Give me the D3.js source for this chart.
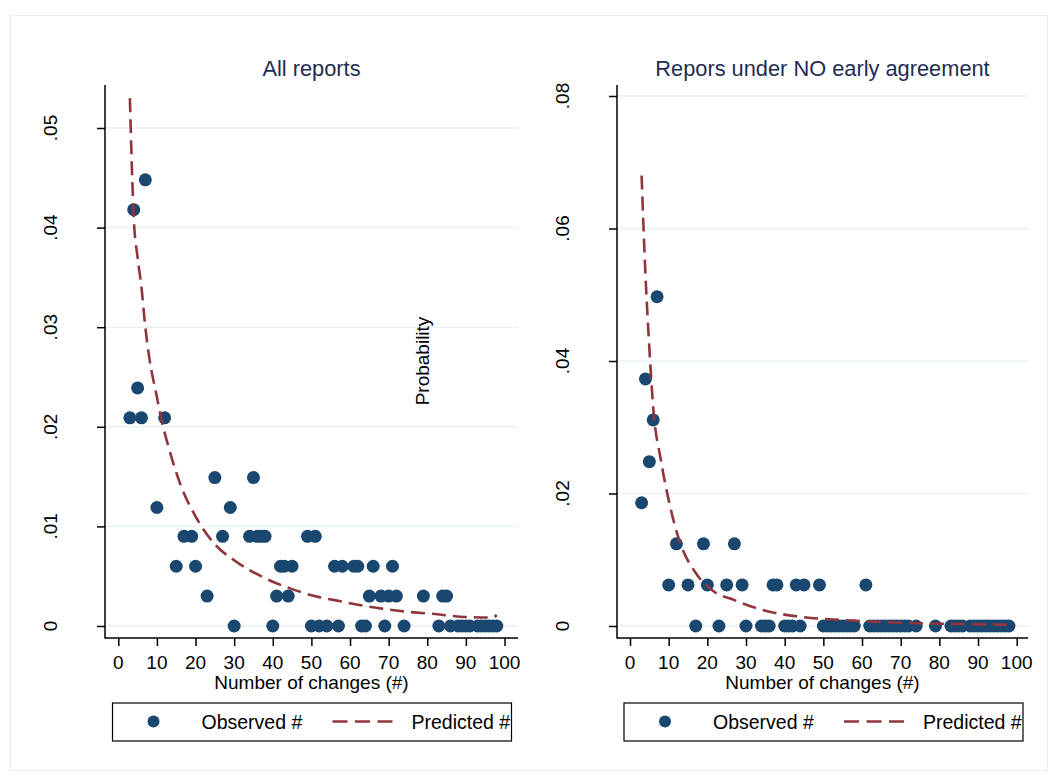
<!DOCTYPE html>
<html>
<head>
<meta charset="utf-8">
<script src="https://cdn.jsdelivr.net/npm/d3@7"></script>
<style>
  body { margin: 0; background: #fff; }
  text { font-family: "Liberation Sans", Arial, sans-serif; }
</style>
</head>
<body>
<div id="chart"></div>
<script>
// ---- data ----
var xTicks = [0, 10, 20, 30, 40, 50, 60, 70, 80, 90, 100];

// left panel: all reports
var allTicks = [0, 0.01, 0.02, 0.03, 0.04, 0.05];
var allTickLabels = ["0", ".01", ".02", ".03", ".04", ".05"];
var allObsX = [7, 4, 5, 3, 6, 12, 25, 35, 10, 29,
               17, 19, 27, 34, 36, 37, 38, 49, 51,
               15, 20, 42, 43, 45, 56, 58, 61, 62, 66, 71,
               23, 41, 44, 65, 68, 70, 72, 79, 84, 85,
               30, 40, 50, 52, 54, 57, 63, 64, 69, 74, 83, 86, 88, 89, 90, 91, 93, 94, 95, 96, 97, 98];
var allObsY = [0.0448, 0.0418, 0.0239, 0.0209, 0.0209, 0.0209, 0.0149, 0.0149, 0.0119, 0.0119,
               0.009, 0.009, 0.009, 0.009, 0.009, 0.009, 0.009, 0.009, 0.009,
               0.006, 0.006, 0.006, 0.006, 0.006, 0.006, 0.006, 0.006, 0.006, 0.006, 0.006,
               0.003, 0.003, 0.003, 0.003, 0.003, 0.003, 0.003, 0.003, 0.003, 0.003,
               0, 0, 0, 0, 0, 0, 0, 0, 0, 0, 0, 0, 0, 0, 0, 0, 0, 0, 0, 0, 0, 0];
var allPredX = [3, 4, 5, 6, 7, 8, 10, 11, 13, 16, 20, 25, 30, 38, 45, 52, 56, 64, 73, 82, 90, 97, 98];
var allPredY = [0.053, 0.041, 0.037, 0.034, 0.030, 0.027, 0.023, 0.021, 0.018, 0.0143, 0.011, 0.0082,
                0.0066, 0.0048, 0.0037, 0.0029, 0.0026, 0.0020, 0.0015, 0.0012, 0.0009, 0.00085, 0.0011];

// right panel: reports under NO early agreement
var noTicks = [0, 0.02, 0.04, 0.06, 0.08];
var noTickLabels = ["0", ".02", ".04", ".06", ".08"];
var noObsX = [7, 4, 6, 5, 3, 12, 19, 27,
              10, 15, 20, 25, 29, 37, 38, 43, 45, 49, 61,
              17, 23, 30, 34, 35, 36, 40, 41, 42, 44, 50, 51, 52, 53, 54, 55, 56, 57, 58,
              62, 63, 64, 65, 66, 67, 68, 69, 70, 71, 72, 74, 79,
              83, 84, 85, 86, 88, 89, 90, 91, 92, 93, 94, 95, 96, 97, 98];
var noObsY = [0.0497, 0.0373, 0.0311, 0.0248, 0.0186, 0.0124, 0.0124, 0.0124,
              0.0062, 0.0062, 0.0062, 0.0062, 0.0062, 0.0062, 0.0062, 0.0062, 0.0062, 0.0062, 0.0062,
              0, 0, 0, 0, 0, 0, 0, 0, 0, 0, 0, 0, 0, 0, 0, 0, 0, 0, 0,
              0, 0, 0, 0, 0, 0, 0, 0, 0, 0, 0, 0, 0,
              0, 0, 0, 0, 0, 0, 0, 0, 0, 0, 0, 0, 0, 0, 0];
var noPredX = [3, 3.5, 4, 5, 6, 8, 10, 13, 17, 21, 27, 35, 44, 55, 70, 85, 98];
var noPredY = [0.068, 0.060, 0.053, 0.042, 0.033, 0.025, 0.019, 0.0125, 0.008, 0.0055, 0.0039,
               0.0023, 0.0014, 0.0009, 0.0005, 0.0003, 0.0002];

var navy = "#1a476f";
var maroon = "#90353b";

var svg = d3.select("#chart")
    .append("svg")
    .attr("width", 1058)
    .attr("height", 776);

// faint outer frame
svg.append("rect")
    .attr("x", 10.5).attr("y", 15.5)
    .attr("width", 1037).attr("height", 755)
    .attr("fill", "#fff")
    .attr("stroke", "#ececec");

function gen_panel(p) {
  var x = d3.scaleLinear().domain([0, 100]).range([p.x0, p.x100]);
  var y = d3.scaleLinear().domain([0, p.ticks[p.ticks.length - 1]]).range([626, p.yTop]);
  var g = svg.append("g");

  // grid
  g.selectAll(".grid")
      .data(p.ticks)
    .enter().append("line")
      .attr("x1", p.axisX).attr("x2", p.right)
      .attr("y1", function(d) { return y(d); })
      .attr("y2", function(d) { return y(d); })
      .attr("stroke", "#eaf1f4")
      .attr("stroke-width", 1.5);

  // y axis
  var yAxis = g.append("g")
      .attr("transform", "translate(" + p.axisX + ",0)")
      .call(d3.axisLeft(y).tickValues(p.ticks).tickSize(8).tickFormat(""));
  yAxis.select(".domain").remove();
  yAxis.selectAll("line").attr("stroke", "#000").attr("stroke-width", 1.5);
  g.append("line")
      .attr("x1", p.axisX).attr("x2", p.axisX)
      .attr("y1", 85).attr("y2", 638.5)
      .attr("stroke", "#000").attr("stroke-width", 1.5);
  g.selectAll(".ylab")
      .data(p.ticks)
    .enter().append("text")
      .attr("transform", function(d) { return "translate(" + (p.axisX - 48) + "," + y(d) + ") rotate(-90)"; })
      .attr("text-anchor", "middle")
      .style("font-size", "19px")
      .text(function(d, i) { return p.tickLabels[i]; });

  // x axis
  var xAxis = g.append("g")
      .attr("transform", "translate(0,638)")
      .call(d3.axisBottom(x).tickValues(xTicks).tickSize(8).tickFormat(""));
  xAxis.select(".domain").remove();
  xAxis.selectAll("line").attr("stroke", "#000").attr("stroke-width", 1.5);
  g.append("line")
      .attr("x1", p.axisX).attr("x2", p.right)
      .attr("y1", 638).attr("y2", 638)
      .attr("stroke", "#000").attr("stroke-width", 1.5);
  g.selectAll(".xlab")
      .data(xTicks)
    .enter().append("text")
      .attr("x", function(d) { return x(d); })
      .attr("y", 669)
      .attr("text-anchor", "middle")
      .style("font-size", "19px")
      .text(function(d) { return d; });

  g.append("text")
      .attr("x", (p.axisX + p.right) / 2)
      .attr("y", 689)
      .attr("text-anchor", "middle")
      .style("font-size", "19px")
      .text("Number of changes (#)");

  // title
  g.append("text")
      .attr("x", (p.axisX + p.right) / 2)
      .attr("y", 76)
      .attr("text-anchor", "middle")
      .attr("fill", "#1e2d53")
      .style("font-size", "21.8px")
      .text(p.title);

  // observed points
  g.selectAll(".dot")
      .data(p.obsX)
    .enter().append("circle")
      .attr("cx", function(d) { return x(d); })
      .attr("cy", function(d, i) { return y(p.obsY[i]); })
      .attr("r", 6.5)
      .attr("fill", navy);

  // predicted curve
  var line = d3.line()
      .x(function(d) { return x(d); })
      .y(function(d, i) { return y(p.predY[i]); })
      .curve(d3.curveMonotoneX);
  g.append("path")
      .attr("d", line(p.predX))
      .attr("fill", "none")
      .attr("stroke", maroon)
      .attr("stroke-width", 2.6)
      .attr("stroke-dasharray", "14,7");

  // legend
  var lx = p.legendX;
  g.append("rect")
      .attr("x", lx).attr("y", 703)
      .attr("width", 399).attr("height", 38)
      .attr("fill", "#fff")
      .attr("stroke", "#000")
      .attr("stroke-width", 1.2);
  g.append("circle")
      .attr("cx", lx + 41).attr("cy", 721.5)
      .attr("r", 6)
      .attr("fill", navy);
  g.append("text")
      .attr("x", lx + 89).attr("y", 729)
      .style("font-size", "19.5px")
      .text("Observed #");
  g.append("line")
      .attr("x1", lx + 220).attr("x2", lx + 280)
      .attr("y1", 721.5).attr("y2", 721.5)
      .attr("stroke", maroon)
      .attr("stroke-width", 2.6)
      .attr("stroke-dasharray", "15,7.5");
  g.append("text")
      .attr("x", lx + 299).attr("y", 729)
      .style("font-size", "19.5px")
      .text("Predicted #");
}

gen_panel({
  title: "All reports",
  x0: 118.3, x100: 504.5, axisX: 105, right: 518, yTop: 128,
  ticks: allTicks, tickLabels: allTickLabels,
  obsX: allObsX, obsY: allObsY, predX: allPredX, predY: allPredY,
  legendX: 112.5
});

gen_panel({
  title: "Repors under NO early agreement",
  x0: 630, x100: 1016.7, axisX: 617, right: 1028, yTop: 96,
  ticks: noTicks, tickLabels: noTickLabels,
  obsX: noObsX, obsY: noObsY, predX: noPredX, predY: noPredY,
  legendX: 624
});

// misplaced y title from the original figure
svg.append("text")
    .attr("transform", "translate(429,361) rotate(-90)")
    .attr("text-anchor", "middle")
    .style("font-size", "19px")
    .text("Probability");
</script>
</body>
</html>
